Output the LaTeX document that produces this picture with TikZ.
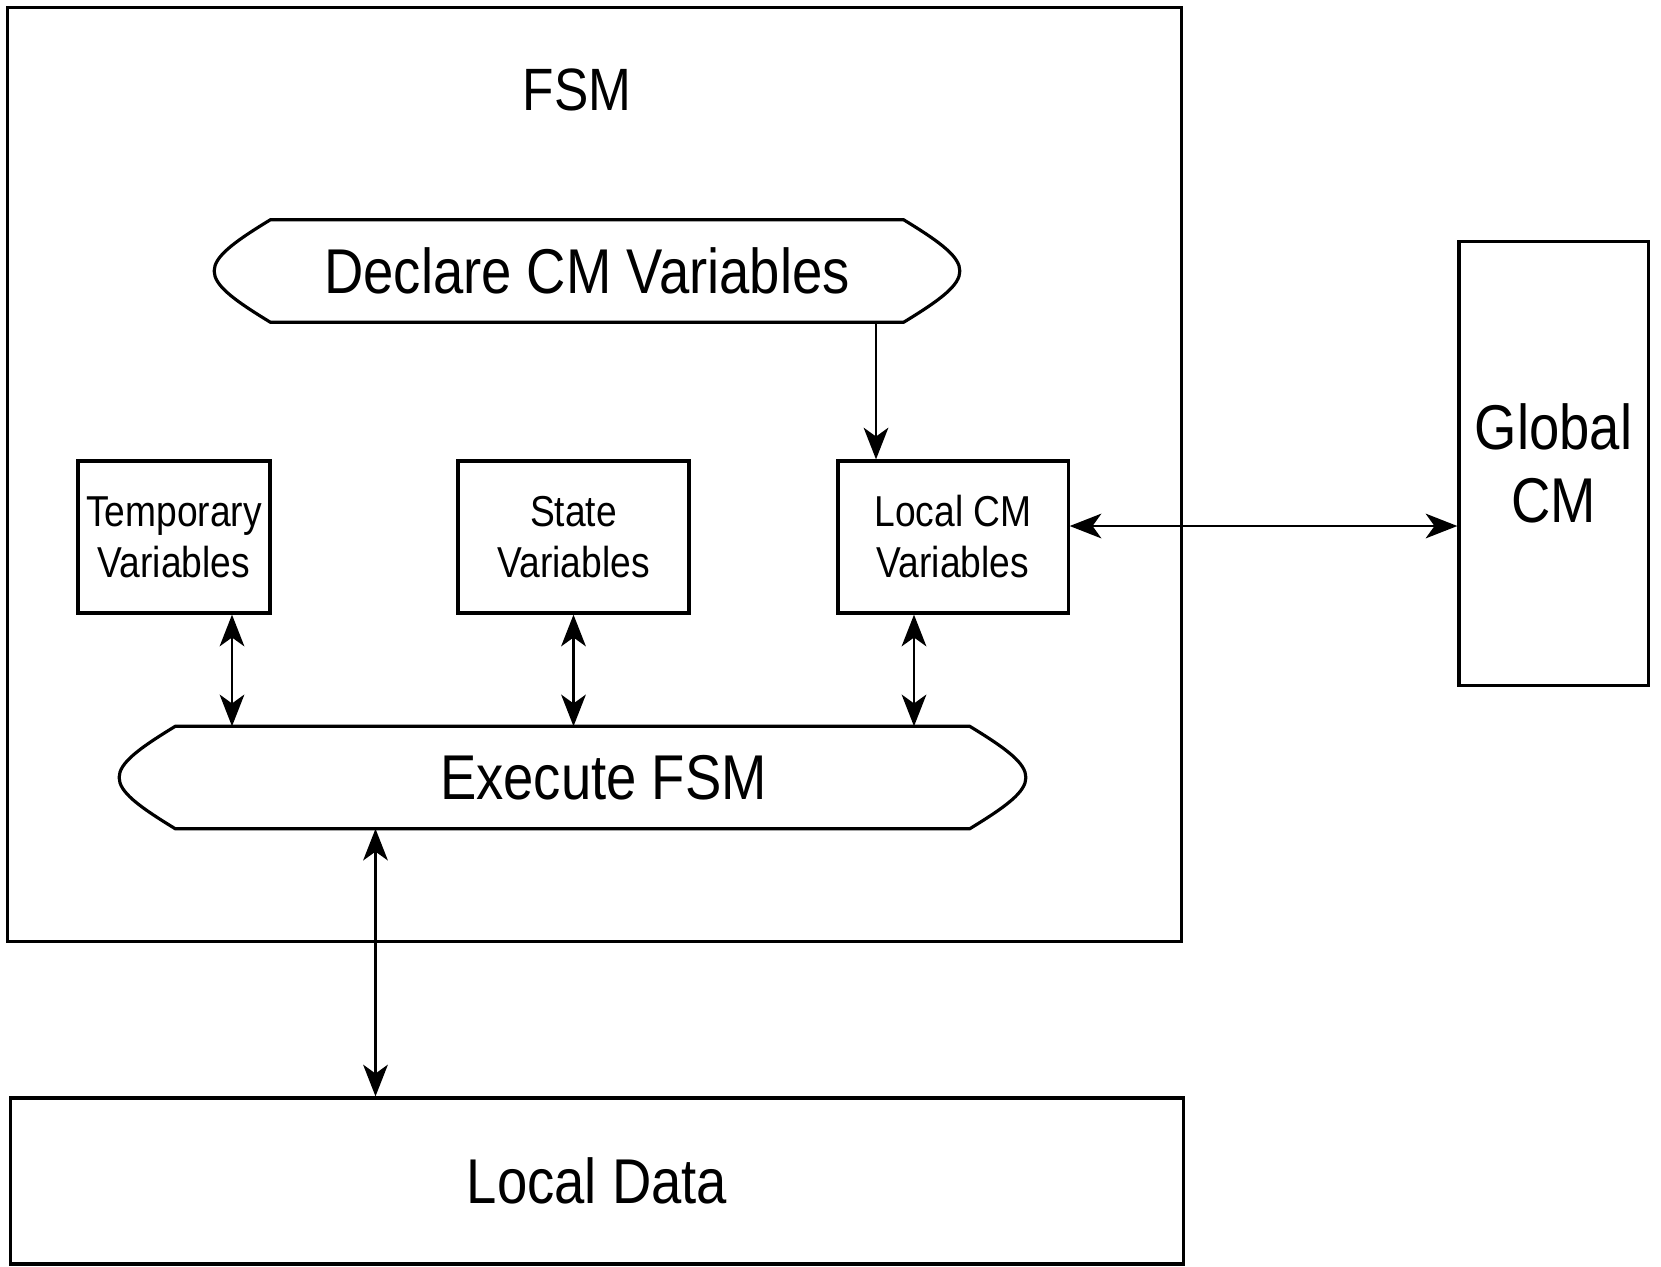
\documentclass[tikz,border=0pt]{standalone}
\usepackage{fontspec}
\setmainfont{Liberation Sans}[FakeStretch=0.86]
\usetikzlibrary{arrows.meta,calc}

% outline of a terminal box (rounded ends)
\newcommand{\termoutline}[1]{%
  \draw[boxline] ([xshift=16pt]#1.north west) -- ([xshift=-16pt]#1.north east)
    .. controls ([xshift=5.3pt,yshift=1.6pt]#1.east) and ([xshift=5.3pt,yshift=-1.6pt]#1.east) .. ([xshift=-16pt]#1.south east)
    -- ([xshift=16pt]#1.south west)
    .. controls ([xshift=-5.3pt,yshift=-1.6pt]#1.west) and ([xshift=-5.3pt,yshift=1.6pt]#1.west) .. ([xshift=16pt]#1.north west)
    -- cycle;}

\begin{document}
\begin{tikzpicture}[x=0.01cm, y=-0.01cm,
  boxline/.style={line width=0.9pt, black},
  varbox/.style={rectangle, draw, boxline, align=center, inner sep=0pt, minimum height=1.52cm, font=\fontsize{12.3}{14.5}\selectfont},
  termbox/.style={rectangle, inner sep=0pt, font=\fontsize{18}{21}\selectfont},
  bigbox/.style={rectangle, draw, boxline, align=center, inner sep=0pt, font=\fontsize{18}{21}\selectfont},
  arr/.style={-{Stealth[length=9pt,width=7pt,inset=2.5pt]}, line width=0.8pt},
  dblarr/.style={{Stealth[length=9pt,width=7pt,inset=2.5pt]}-{Stealth[length=9pt,width=7pt,inset=2.5pt]}, line width=0.8pt}
]
\useasboundingbox (0,0) rectangle (1661,1266);

% FSM frame
\node[bigbox, minimum width=11.73cm, minimum height=9.33cm] (fsm) at (594.5,474.5) {};
\node[font=\fontsize{17}{20}\selectfont] (fsmtitle) at (577,90) {FSM};

% Declare / Execute
\node[termbox, minimum width=7.44cm, minimum height=1.01cm] (decl) at (587,271) {Declare CM Variables};
\termoutline{decl}
\node[termbox, minimum width=9.05cm, minimum height=1.01cm] (exec) at (572.5,777.5) {};
\node[termbox] (exectext) at ($(exec)+(31,0)$) {Execute FSM};
\termoutline{exec}

% Variable boxes
\node[varbox, minimum width=1.92cm] (temp) at (174,537) {Temporary\\Variables};
\node[varbox, minimum width=2.31cm] (state) at (573.5,537) {State\\Variables};
\node[varbox, minimum width=2.30cm] (localcm) at (953,537) {Local CM\\Variables};

% Outside boxes
\node[bigbox, minimum width=1.89cm, minimum height=4.43cm, font=\fontsize{18}{20.8}\selectfont] (global) at (1553.5,463.5) {Global\\CM};
\node[bigbox, minimum width=11.72cm, minimum height=1.66cm] (localdata) at (597,1181) {Local Data};

% Connectors
\coordinate (declout) at ($(localcm.north)+(-77,0)$);
\draw[arr] (declout |- decl.south) -- (declout);

\foreach \n/\dx in {temp/58, state/0, localcm/-39} {
  \coordinate (o\n) at ($(\n.south)+(\dx,0)$);
  \draw[dblarr] (o\n) -- (o\n |- exec.north);
}

\coordinate (execout) at ($(exec.south)+(-197,0)$);
\draw[dblarr] (execout) -- (execout |- localdata.north);

\coordinate (cmout) at ($(localcm.east)+(0,-11)$);
\draw[dblarr] (cmout) -- (cmout -| global.west);

\end{tikzpicture}
\end{document}
